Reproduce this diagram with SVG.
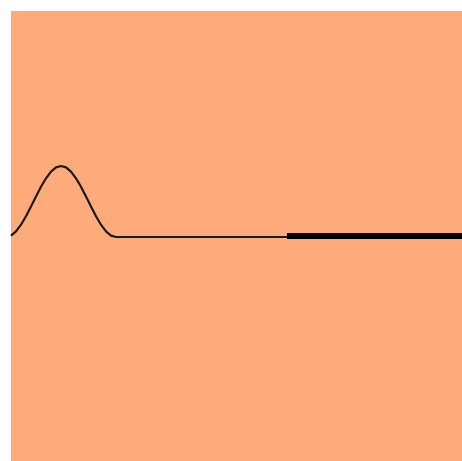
<svg xmlns="http://www.w3.org/2000/svg" width="462" height="461" viewBox="0 0 462 461">
<style>.c{fill:none;stroke:#1a1a1a;stroke-width:2.2;stroke-linejoin:round}</style>
<rect x="0" y="0" width="462" height="461" fill="#ffffff"/>
<rect x="11" y="11" width="451" height="450" fill="#ffaa7b"/>
<g id="connectors">
<polyline class="c" points="11,235.6 16,231.4 21,224.7 26,216.2 31,206.5 36,196.5 41,186.7 46,178.3 51,171.6 56,167.4 61,166 66,167.4 71,171.6 76,178.3 81,186.7 86,196.5 91,206.5 96,216.2 101,224.7 106,231.4 111,235.6 116,237 287,237"/>
<line x1="287" y1="236" x2="462" y2="236" stroke="#000" stroke-width="6"/>
</g>
</svg>
